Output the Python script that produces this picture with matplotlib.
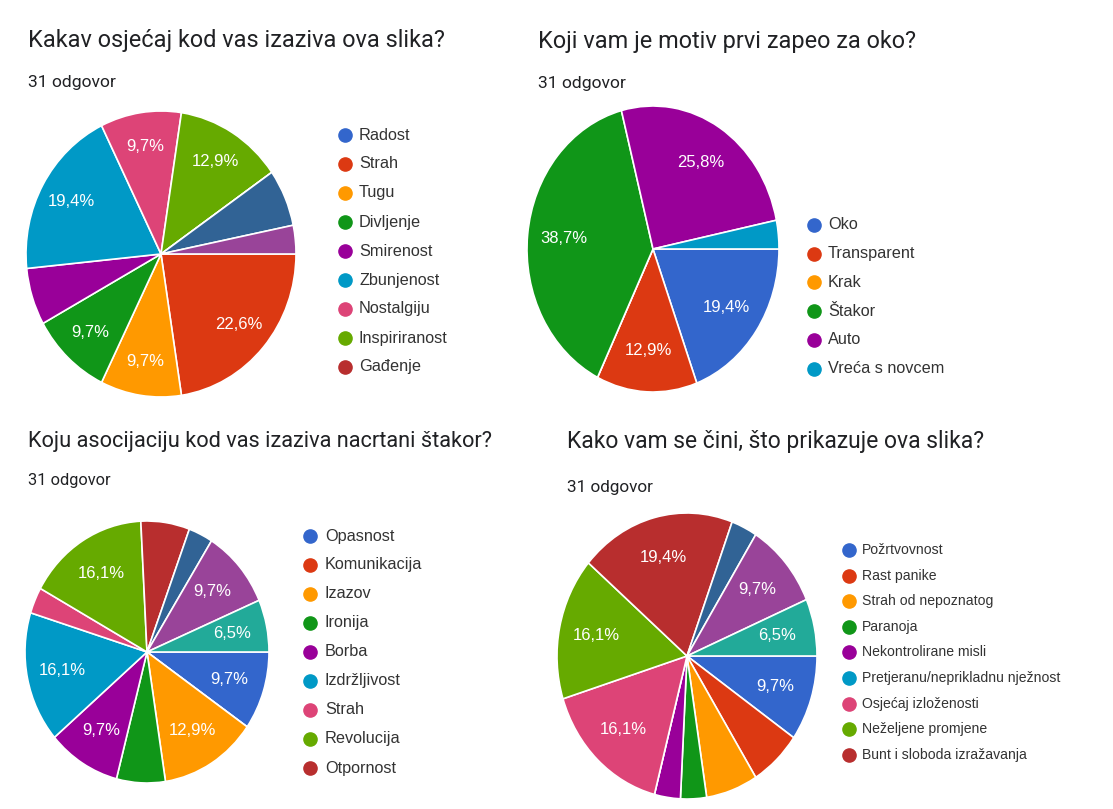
import numpy as np
import matplotlib.pyplot as plt
from matplotlib.lines import Line2D

# google forms palette (extra slices past the legend are "other" answers)
palette = ['#3366CC', '#DC3912', '#FF9900', '#109618', '#990099', '#0099C6',
           '#DD4477', '#66AA00', '#B82E2E', '#316395', '#994499', '#22AA99']

total = 31

titles = ['Kakav osjećaj kod vas izaziva ova slika?',
          'Koji vam je motiv prvi zapeo za oko?',
          'Koju asocijaciju kod vas izaziva nacrtani štakor?',
          'Kako vam se čini, što prikazuje ova slika?']

labels1 = ['Radost', 'Strah', 'Tugu', 'Divljenje', 'Smirenost', 'Zbunjenost',
           'Nostalgiju', 'Inspiriranost', 'Gađenje']
counts1 = [0, 7, 3, 3, 2, 6, 3, 4, 0, 2, 1]

labels2 = ['Oko', 'Transparent', 'Krak', 'Štakor', 'Auto', 'Vreća s novcem']
counts2 = [6, 4, 0, 12, 8, 1]

labels3 = ['Opasnost', 'Komunikacija', 'Izazov', 'Ironija', 'Borba',
           'Izdržljivost', 'Strah', 'Revolucija', 'Otpornost']
counts3 = [3, 0, 4, 2, 3, 5, 1, 5, 2, 1, 3, 2]

labels4 = ['Požrtvovnost', 'Rast panike', 'Strah od nepoznatog', 'Paranoja',
           'Nekontrolirane misli', 'Pretjeranu/neprikladnu nježnost',
           'Osjećaj izloženosti', 'Neželjene promjene', 'Bunt i sloboda izražavanja']
counts4 = [3, 2, 2, 1, 1, 0, 5, 5, 6, 1, 3, 2]

W, H = 1113, 809
fig = plt.figure(figsize=(W / 100, H / 100), dpi=100)
fig.patch.set_facecolor('white')


def fx(x):
    return x / W


def fy(y):
    return 1 - y / H


def pie(counts, cx, cy, rx, ry, extra=(), dist=0.71):
    ax = fig.add_axes([fx(cx - rx), fy(cy + ry), 2 * rx / W, 2 * ry / H])
    cols = palette[:len(counts)]
    wedges = ax.pie(counts, colors=cols, startangle=0, counterclock=False,
                    wedgeprops=dict(edgecolor='white', linewidth=1.2))[0]
    ax.set_aspect('auto')
    ax.set_xlim(-1, 1)
    ax.set_ylim(-1, 1)
    for i, (w, c) in enumerate(zip(wedges, counts)):
        if c == 0 or (c < 3 and i not in extra):
            continue
        a = np.deg2rad((w.theta1 + w.theta2) / 2)
        txt = f'{c / total * 100:.1f}%'.replace('.', ',')
        ax.text(dist * np.cos(a), dist * np.sin(a), txt, color='white',
                ha='center', va='center', fontsize=12, family='Liberation Sans')


def legend(labels, mx, tx, y0, dy, fs):
    for i, lab in enumerate(labels):
        y = y0 + i * dy
        fig.add_artist(Line2D([fx(mx)], [fy(y)], marker='o', markersize=9.5,
                              color=palette[i], transform=fig.transFigure))
        fig.text(fx(tx), fy(y), lab, ha='left', va='center', fontsize=fs,
                 color='#333333', family='Liberation Sans')


def header(title, x, yt, ys, fs_t, fs_s):
    fig.text(fx(x), fy(yt), title, fontsize=fs_t, color='#202124',
             family='Roboto', va='baseline')
    fig.text(fx(x), fy(ys), '31 odgovor', fontsize=fs_s, color='#202124',
             family='Roboto', va='baseline')


header(titles[0], 28, 47, 87, 16.9, 12.6)
header(titles[1], 538, 48, 88, 16.9, 12.6)
header(titles[2], 28, 447, 485, 15.7, 11.8)
header(titles[3], 567, 448, 492, 16.5, 12.3)

pie(counts1, 161, 254, 135, 143, dist=0.76)
pie(counts2, 653, 249, 126, 143)
pie(counts3, 147, 652, 122, 131, extra=(11,))
pie(counts4, 687, 656, 130, 143, extra=(11,))

legend(labels1, 345, 359, 135, 29, 11.7)
legend(labels2, 814, 828, 225, 28.7, 11.7)
legend(labels3, 310, 325, 536, 29, 11.7)
legend(labels4, 849, 862, 550, 25.6, 10.1)

fig.savefig('out.png', dpi=100)
